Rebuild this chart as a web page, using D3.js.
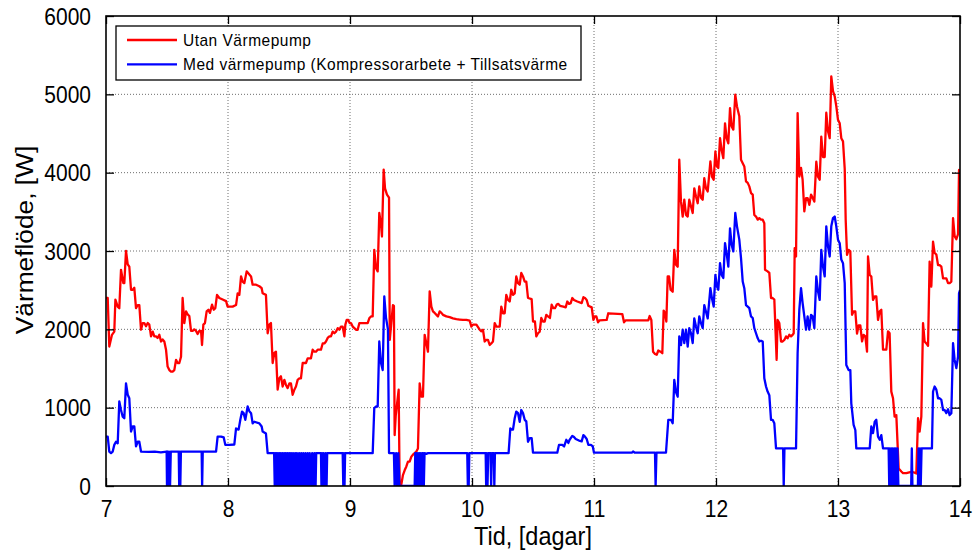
<!DOCTYPE html>
<html>
<head>
<meta charset="utf-8">
<script src="https://cdn.jsdelivr.net/npm/d3@7/dist/d3.min.js"></script>
<style>
  html, body { margin: 0; padding: 0; background: #fff; }
  svg { display: block; }
  text { font-family: "Liberation Sans", Arial, sans-serif; fill: #000; }
</style>
</head>
<body>
<svg id="chart" width="974" height="550"></svg>
<script>
// Heat flow over one week, [day, W]
const seriesNames = ["Utan Värmepump", "Med värmepump (Kompressorarbete + Tillsatsvärme"];
const seriesColors = ["#ff0000", "#0000ff"];
const xTicks = [7, 8, 9, 10, 11, 12, 13, 14];
const yTicks = [0, 1000, 2000, 3000, 4000, 5000, 6000];
const xLabel = "Tid, [dagar]";
const yLabel = "Värmeflöde, [W]";

// Without heat pump
const redSeries = [
  [7.000,2400],[7.014,2400],[7.027,1780],[7.049,1930],[7.068,1970],[7.077,2380],[7.096,2290],[7.109,2270],
  [7.123,2760],[7.142,2590],[7.150,2590],[7.164,3000],[7.178,2830],[7.191,2800],[7.205,2505],[7.219,2505],
  [7.232,2530],[7.246,2270],[7.260,2310],[7.273,2310],[7.287,1995],[7.301,2080],[7.314,2080],[7.328,2040],
  [7.342,2080],[7.355,2060],[7.369,1910],[7.383,1970],[7.396,1910],[7.410,1910],[7.423,1890],[7.437,1930],
  [7.451,1845],[7.464,1870],[7.478,1845],[7.492,1740],[7.505,1525],[7.519,1480],[7.533,1460],[7.546,1460],
  [7.560,1480],[7.574,1610],[7.587,1570],[7.601,1570],[7.615,1650],[7.628,2400],[7.642,2080],[7.656,2230],
  [7.669,2190],[7.683,2170],[7.697,1980],[7.710,1980],[7.724,2000],[7.738,1980],[7.751,1940],[7.765,1980],
  [7.779,1980],[7.787,1800],[7.798,2060],[7.811,2080],[7.825,2230],[7.839,2250],[7.852,2210],[7.869,2315],
  [7.883,2250],[7.896,2270],[7.910,2440],[7.929,2400],[7.956,2380],[7.984,2360],[7.997,2290],[8.011,2290],
  [8.038,2290],[8.066,2310],[8.079,2460],[8.093,2440],[8.107,2675],[8.120,2610],[8.134,2590],[8.153,2740],
  [8.175,2700],[8.189,2675],[8.202,2570],[8.230,2570],[8.257,2550],[8.276,2525],[8.284,2460],[8.311,2440],
  [8.325,1950],[8.339,2060],[8.352,2080],[8.366,1570],[8.380,1700],[8.393,1715],[8.407,1230],[8.421,1375],
  [8.434,1400],[8.448,1270],[8.462,1355],[8.475,1290],[8.489,1250],[8.503,1310],[8.516,1310],[8.530,1165],
  [8.544,1230],[8.557,1270],[8.571,1355],[8.585,1375],[8.598,1375],[8.612,1570],[8.626,1570],[8.639,1570],
  [8.653,1630],[8.667,1630],[8.680,1630],[8.694,1740],[8.708,1715],[8.721,1715],[8.735,1740],[8.749,1740],
  [8.762,1740],[8.776,1820],[8.790,1820],[8.803,1845],[8.817,1890],[8.831,1910],[8.844,1910],[8.858,1970],
  [8.872,1950],[8.885,1970],[8.899,2015],[8.913,1995],[8.926,2035],[8.940,2035],[8.954,1910],[8.962,2060],
  [8.973,2120],[8.986,2120],[8.997,2080],[9.008,2080],[9.022,2035],[9.036,2015],[9.049,1995],[9.063,1995],
  [9.077,2080],[9.090,2080],[9.117,2080],[9.145,2080],[9.158,2140],[9.172,2165],[9.186,2165],[9.199,3015],
  [9.213,2780],[9.227,2740],[9.240,3485],[9.254,3335],[9.262,3185],[9.276,4040],[9.287,3800],[9.303,3720],
  [9.320,3680],[9.326,1865],[9.352,2310],[9.360,2300],[9.366,650],[9.375,900],[9.399,1230],[9.407,0],
  [9.421,20],[9.434,140],[9.448,200],[9.462,250],[9.475,310],[9.489,310],[9.503,375],[9.516,400],
  [9.530,420],[9.544,440],[9.557,480],[9.571,1310],[9.585,1140],[9.598,1140],[9.612,1930],[9.626,1820],
  [9.639,1715],[9.653,2485],[9.667,2290],[9.680,2230],[9.694,2210],[9.708,2185],[9.721,2165],[9.735,2230],
  [9.749,2210],[9.762,2185],[9.790,2165],[9.817,2155],[9.844,2140],[9.872,2130],[9.899,2125],[9.926,2120],
  [9.954,2120],[9.981,2110],[9.995,2035],[10.008,2060],[10.036,2060],[10.063,1995],[10.077,1975],[10.090,1995],
  [10.104,1845],[10.117,1865],[10.131,1865],[10.145,1800],[10.158,1820],[10.172,1845],[10.186,2080],[10.199,2035],
  [10.227,2035],[10.240,2290],[10.254,2205],[10.268,2205],[10.281,2440],[10.295,2375],[10.309,2355],[10.322,2505],
  [10.336,2440],[10.350,2460],[10.363,2675],[10.377,2590],[10.391,2570],[10.404,2720],[10.418,2675],[10.432,2610],
  [10.445,2610],[10.459,2400],[10.489,2385],[10.500,2100],[10.516,2100],[10.527,1910],[10.541,1950],[10.555,1970],
  [10.568,2145],[10.582,2100],[10.596,2100],[10.609,2185],[10.623,2165],[10.639,2145],[10.653,2315],[10.667,2270],
  [10.680,2270],[10.694,2315],[10.708,2325],[10.721,2300],[10.749,2290],[10.768,2280],[10.781,2355],[10.795,2325],
  [10.809,2335],[10.822,2400],[10.836,2375],[10.863,2355],[10.899,2335],[10.913,2410],[10.926,2400],[10.940,2375],
  [10.954,2300],[10.981,2280],[10.995,2120],[11.005,2165],[11.019,2165],[11.033,2090],[11.046,2115],[11.104,2120],
  [11.117,2205],[11.232,2195],[11.246,2090],[11.260,2115],[11.445,2115],[11.456,2170],[11.470,2120],[11.484,1715],
  [11.500,1685],[11.514,1675],[11.527,1730],[11.546,1715],[11.560,1695],[11.571,2240],[11.582,2205],[11.593,2100],
  [11.604,2675],[11.615,2675],[11.628,2505],[11.645,2480],[11.658,3015],[11.672,2825],[11.686,2800],[11.699,4165],
  [11.713,3630],[11.727,3440],[11.740,3655],[11.754,3460],[11.768,3440],[11.781,3655],[11.795,3570],[11.809,3485],
  [11.822,3800],[11.836,3695],[11.850,3610],[11.863,3825],[11.877,3680],[11.891,3655],[11.904,3930],[11.918,3800],
  [11.932,3760],[11.954,4145],[11.967,3950],[11.981,3910],[11.995,4270],[12.008,4080],[12.019,4060],[12.033,4440],
  [12.046,4290],[12.060,4185],[12.074,4630],[12.087,4440],[12.101,4375],[12.115,4825],[12.128,4590],[12.142,4550],
  [12.158,4995],[12.172,4845],[12.191,4720],[12.205,4165],[12.219,4120],[12.232,4080],[12.246,3890],[12.260,3870],
  [12.273,3825],[12.287,3740],[12.301,3720],[12.314,3460],[12.328,3440],[12.342,3400],[12.355,3420],[12.369,3400],
  [12.383,3400],[12.396,3355],[12.402,2760],[12.423,2740],[12.437,2720],[12.451,2400],[12.464,2400],[12.478,2380],
  [12.484,2140],[12.497,1610],[12.505,2120],[12.519,2080],[12.533,1845],[12.546,1845],[12.560,1865],[12.574,1910],
  [12.587,1885],[12.601,1930],[12.615,1910],[12.628,1930],[12.637,1950],[12.645,3035],[12.656,2930],[12.669,4760],
  [12.683,3950],[12.697,4060],[12.710,3910],[12.724,3505],[12.738,3675],[12.751,3675],[12.765,3590],[12.779,3720],
  [12.792,3680],[12.806,3630],[12.822,4140],[12.836,3950],[12.850,3910],[12.863,4460],[12.877,4200],[12.891,4200],
  [12.904,4765],[12.918,4530],[12.932,4440],[12.945,5230],[12.959,5040],[12.973,4975],[12.986,4850],[13.000,4675],
  [13.014,4630],[13.027,4440],[13.041,4400],[13.055,4050],[13.063,3400],[13.074,2950],[13.087,3015],[13.101,2995],
  [13.115,2185],[13.128,2230],[13.142,2230],[13.156,1945],[13.169,2050],[13.183,2050],[13.197,1845],[13.210,1930],
  [13.224,1910],[13.238,1715],[13.246,2930],[13.260,2695],[13.273,2675],[13.287,2375],[13.301,2420],[13.314,2420],
  [13.328,2120],[13.342,2230],[13.355,2250],[13.369,1740],[13.383,1740],[13.396,1740],[13.410,1975],[13.423,1950],
  [13.437,1205],[13.451,1120],[13.464,885],[13.478,905],[13.497,225],[13.519,185],[13.533,165],[13.560,165],
  [13.600,180],[13.620,175],[13.642,160],[13.656,865],[13.669,695],[13.683,885],[13.697,2080],[13.710,1845],
  [13.724,1820],[13.738,1790],[13.751,2865],[13.765,2545],[13.779,3120],[13.792,2975],[13.806,2955],[13.820,2820],
  [13.833,2820],[13.847,2800],[13.861,2650],[13.874,2650],[13.888,2650],[13.902,2590],[13.915,2590],[13.929,2610],
  [13.943,3420],[13.956,3190],[13.970,3150],[13.984,3215],[13.992,4035],[14.000,4000]
];

// With heat pump (compressor work + auxiliary heat)
const blueSeries = [
  [7.000,630],[7.014,630],[7.027,440],[7.041,420],[7.055,440],[7.068,525],[7.082,565],[7.096,545],
  [7.109,1080],[7.123,970],[7.137,885],[7.150,865],[7.164,1310],[7.178,1165],[7.191,1120],[7.205,695],
  [7.219,760],[7.232,760],[7.246,505],[7.260,565],[7.273,565],[7.287,440],[7.350,435],[7.400,440],
  [7.450,430],[7.497,440],[7.500,0],[7.505,440],[7.510,0],[7.516,440],[7.525,0],[7.531,440],
  [7.596,440],[7.600,0],[7.605,440],[7.609,0],[7.614,440],[7.700,440],[7.784,440],[7.788,0],
  [7.793,440],[7.902,440],[7.915,630],[7.943,630],[7.965,620],[7.978,525],[8.011,525],[8.052,530],
  [8.066,735],[8.087,720],[8.101,845],[8.115,950],[8.128,930],[8.142,845],[8.161,1015],[8.175,955],
  [8.189,930],[8.202,800],[8.216,820],[8.257,800],[8.276,760],[8.284,695],[8.311,670],[8.325,420],
  [8.378,420],[8.383,0],[8.388,420],[8.393,0],[8.398,420],[8.404,0],[8.409,420],[8.415,0],
  [8.420,420],[8.428,0],[8.433,420],[8.441,0],[8.446,420],[8.455,0],[8.460,420],[8.468,0],
  [8.473,420],[8.483,0],[8.488,420],[8.497,0],[8.502,420],[8.512,0],[8.517,420],[8.528,0],
  [8.533,420],[8.545,0],[8.550,420],[8.560,0],[8.565,420],[8.578,0],[8.583,420],[8.595,0],
  [8.600,420],[8.612,0],[8.617,420],[8.630,0],[8.635,420],[8.648,0],[8.653,420],[8.665,0],
  [8.670,420],[8.685,0],[8.690,420],[8.703,0],[8.708,420],[8.718,0],[8.723,420],[8.762,420],
  [8.766,0],[8.771,420],[8.778,0],[8.783,420],[8.795,0],[8.800,420],[8.808,0],[8.813,420],
  [8.940,420],[8.945,0],[8.950,420],[8.955,0],[8.960,420],[9.186,420],[9.199,995],[9.213,1015],
  [9.227,1015],[9.240,1845],[9.254,1570],[9.268,1480],[9.281,2420],[9.295,2150],[9.311,2000],[9.320,420],
  [9.360,420],[9.366,0],[9.378,420],[9.386,0],[9.396,420],[9.405,0],[9.530,0],[9.535,420],
  [9.540,0],[9.546,420],[9.551,0],[9.557,420],[9.562,0],[9.568,420],[9.573,0],[9.580,420],
  [9.586,0],[9.592,420],[9.600,420],[9.605,0],[9.611,420],[9.625,410],[9.640,420],[9.961,420],
  [9.966,0],[9.973,0],[9.978,420],[10.112,420],[10.116,0],[10.121,420],[10.127,0],[10.133,420],
  [10.152,420],[10.157,0],[10.162,420],[10.178,420],[10.183,0],[10.188,420],[10.300,420],[10.314,735],
  [10.327,720],[10.336,720],[10.350,865],[10.363,950],[10.377,930],[10.391,820],[10.404,970],[10.418,930],
  [10.432,845],[10.445,825],[10.459,565],[10.473,610],[10.489,610],[10.500,425],[10.699,425],[10.713,525],
  [10.740,525],[10.755,505],[10.773,590],[10.790,550],[10.800,590],[10.822,640],[10.836,625],[10.850,600],
  [10.877,580],[10.899,570],[10.913,650],[10.926,630],[10.940,600],[10.954,525],[10.975,525],[10.990,505],
  [11.000,425],[11.310,425],[11.320,440],[11.335,425],[11.500,425],[11.505,0],[11.512,425],[11.590,425],
  [11.609,845],[11.631,845],[11.645,800],[11.658,1355],[11.672,1200],[11.686,1140],[11.699,1910],[11.713,1800],
  [11.727,1995],[11.740,1825],[11.754,1995],[11.768,1780],[11.781,2015],[11.795,1950],[11.809,1825],[11.822,2140],
  [11.836,2035],[11.850,1950],[11.863,2165],[11.877,2080],[11.891,2015],[11.904,2310],[11.918,2225],[11.932,2140],
  [11.954,2525],[11.967,2395],[11.981,2290],[11.995,2695],[12.008,2545],[12.019,2505],[12.033,2845],[12.046,2695],
  [12.060,2655],[12.074,3100],[12.087,2970],[12.101,2800],[12.115,3290],[12.128,3080],[12.142,2995],[12.158,3485],
  [12.172,3315],[12.191,3145],[12.205,2910],[12.219,2610],[12.232,2525],[12.246,2310],[12.260,2290],[12.273,2270],
  [12.287,2165],[12.301,2145],[12.314,2015],[12.328,1950],[12.342,1885],[12.355,1845],[12.369,1855],[12.383,1845],
  [12.396,1375],[12.410,1270],[12.423,1205],[12.437,1160],[12.451,845],[12.464,845],[12.478,800],[12.492,480],
  [12.550,480],[12.555,0],[12.561,480],[12.656,480],[12.669,1695],[12.683,2250],[12.697,2525],[12.710,2335],
  [12.724,2165],[12.738,1995],[12.751,2165],[12.765,1995],[12.779,2185],[12.792,2165],[12.806,2015],[12.822,2675],
  [12.836,2485],[12.850,2375],[12.863,3015],[12.877,2800],[12.891,2675],[12.904,3315],[12.918,3060],[12.932,2930],
  [12.945,3315],[12.959,3420],[12.973,3440],[12.986,3315],[13.000,3145],[13.014,3100],[13.027,2890],[13.041,2845],
  [13.055,2590],[13.068,1545],[13.087,1480],[13.101,1480],[13.109,1055],[13.128,780],[13.142,715],[13.150,480],
  [13.260,480],[13.273,760],[13.287,675],[13.301,820],[13.314,845],[13.328,630],[13.342,590],[13.355,650],
  [13.369,480],[13.415,480],[13.420,0],[13.425,480],[13.430,0],[13.436,480],[13.442,0],[13.448,480],
  [13.455,0],[13.461,480],[13.468,0],[13.474,480],[13.480,0],[13.487,480],[13.495,0],[13.600,0],
  [13.605,480],[13.610,0],[13.655,0],[13.660,480],[13.665,0],[13.672,480],[13.678,0],[13.685,480],
  [13.697,480],[13.770,480],[13.779,1205],[13.792,1270],[13.806,1230],[13.820,1120],[13.833,1120],[13.847,1100],
  [13.861,970],[13.874,970],[13.888,930],[13.902,980],[13.915,905],[13.929,930],[13.943,1825],[13.956,1610],
  [13.970,1505],[13.984,1650],[13.992,2460],[14.000,2500]
];

const svg = d3.select("#chart");
const margin = { left: 106, right: 14, top: 16, bottom: 64 };
const W = 974, H = 550;
const x = d3.scaleLinear().domain([7, 14]).range([margin.left, W - margin.right]);
const y = d3.scaleLinear().domain([0, 6000]).range([H - margin.bottom, margin.top]);
const x0 = x.range()[0], x1 = x.range()[1], y0 = y.range()[0], y1 = y.range()[1];
const font = "'Liberation Sans', Arial, sans-serif";

// dotted grid
const grid = svg.append("g");
grid.selectAll(".gx").data(xTicks.slice(1, -1)).join("line")
  .attr("x1", d => x(d)).attr("x2", d => x(d)).attr("y1", y1).attr("y2", y0)
  .attr("stroke", "#6e6e6e").attr("stroke-width", 1).attr("stroke-dasharray", "1,2");
grid.selectAll(".gy").data(yTicks.slice(1, -1)).join("line")
  .attr("x1", x0).attr("x2", x1).attr("y1", d => y(d)).attr("y2", d => y(d))
  .attr("stroke", "#6e6e6e").attr("stroke-width", 1).attr("stroke-dasharray", "1,2");

// series
const line = d3.line().x(d => x(d[0])).y(d => y(d[1]));
svg.append("defs").append("clipPath").attr("id", "plotClip")
  .append("rect").attr("x", x0).attr("y", y1).attr("width", x1 - x0).attr("height", y0 - y1);
const plot = svg.append("g").attr("clip-path", "url(#plotClip)");
plot.append("path").datum(redSeries).attr("d", line)
  .attr("fill", "none").attr("stroke", seriesColors[0]).attr("stroke-width", 2.3).attr("stroke-linejoin", "round");
plot.append("path").datum(blueSeries).attr("d", line)
  .attr("fill", "none").attr("stroke", seriesColors[1]).attr("stroke-width", 2.3).attr("stroke-linejoin", "round");

// axes with inward ticks on all four sides
const tl = 8;
const axB = d3.axisBottom(x).tickValues(xTicks).tickSize(-tl).tickFormat(d3.format("d"));
const axT = d3.axisTop(x).tickValues(xTicks).tickSize(-tl).tickFormat("");
const axL = d3.axisLeft(y).tickValues(yTicks).tickSize(-tl).tickFormat(d3.format("d"));
const axR = d3.axisRight(y).tickValues(yTicks).tickSize(-tl).tickFormat("");
const gB = svg.append("g").attr("transform", `translate(0,${y0})`).call(axB);
const gT = svg.append("g").attr("transform", `translate(0,${y1})`).call(axT);
const gL = svg.append("g").attr("transform", `translate(${x0},0)`).call(axL);
const gR = svg.append("g").attr("transform", `translate(${x1},0)`).call(axR);
[gB, gT, gL, gR].forEach(g => {
  g.select(".domain").remove();
  g.selectAll(".tick line").attr("stroke", "#000").attr("stroke-width", 1.3);
});
// tick labels: slightly tall glyphs
gB.selectAll(".tick text").attr("y", 12.5).attr("dy", "0.71em").attr("transform", "scale(1,1.12)")
  .style("font-size", "21px").style("font-family", font).attr("fill", "#000");
gL.selectAll(".tick text").attr("x", -15).attr("dy", "0.35em").attr("transform", "scale(1,1.12)")
  .style("font-size", "21px").style("font-family", font).attr("fill", "#000");

// axes box
svg.append("rect").attr("x", x0).attr("y", y1).attr("width", x1 - x0).attr("height", y0 - y1)
  .attr("fill", "none").attr("stroke", "#000").attr("stroke-width", 1.6);

// axis titles
svg.append("text").attr("transform", `translate(${(x0 + x1) / 2},545) scale(1,1.1)`).attr("text-anchor", "middle")
  .style("font-size", "23.5px").text(xLabel);
svg.append("text").attr("transform", `translate(33,${(y0 + y1) / 2 - 11}) rotate(-90) scale(1.12,1)`).attr("text-anchor", "middle")
  .style("font-size", "23.5px").text(yLabel);

// legend
const lg = svg.append("g");
lg.append("rect").attr("x", 116).attr("y", 26).attr("width", 465).attr("height", 54)
  .attr("fill", "#fff").attr("stroke", "#000").attr("stroke-width", 1.3);
seriesNames.forEach((name, i) => {
  const ly = 40 + i * 24.3;
  lg.append("line").attr("x1", 127).attr("x2", 177).attr("y1", ly).attr("y2", ly)
    .attr("stroke", seriesColors[i]).attr("stroke-width", 2.3);
  lg.append("text").attr("transform", `translate(183,${ly}) scale(1,1.08)`).attr("dy", "0.36em")
    .style("font-size", "15.5px").style("letter-spacing", "0.5px").text(name);
});
</script>
</body>
</html>
